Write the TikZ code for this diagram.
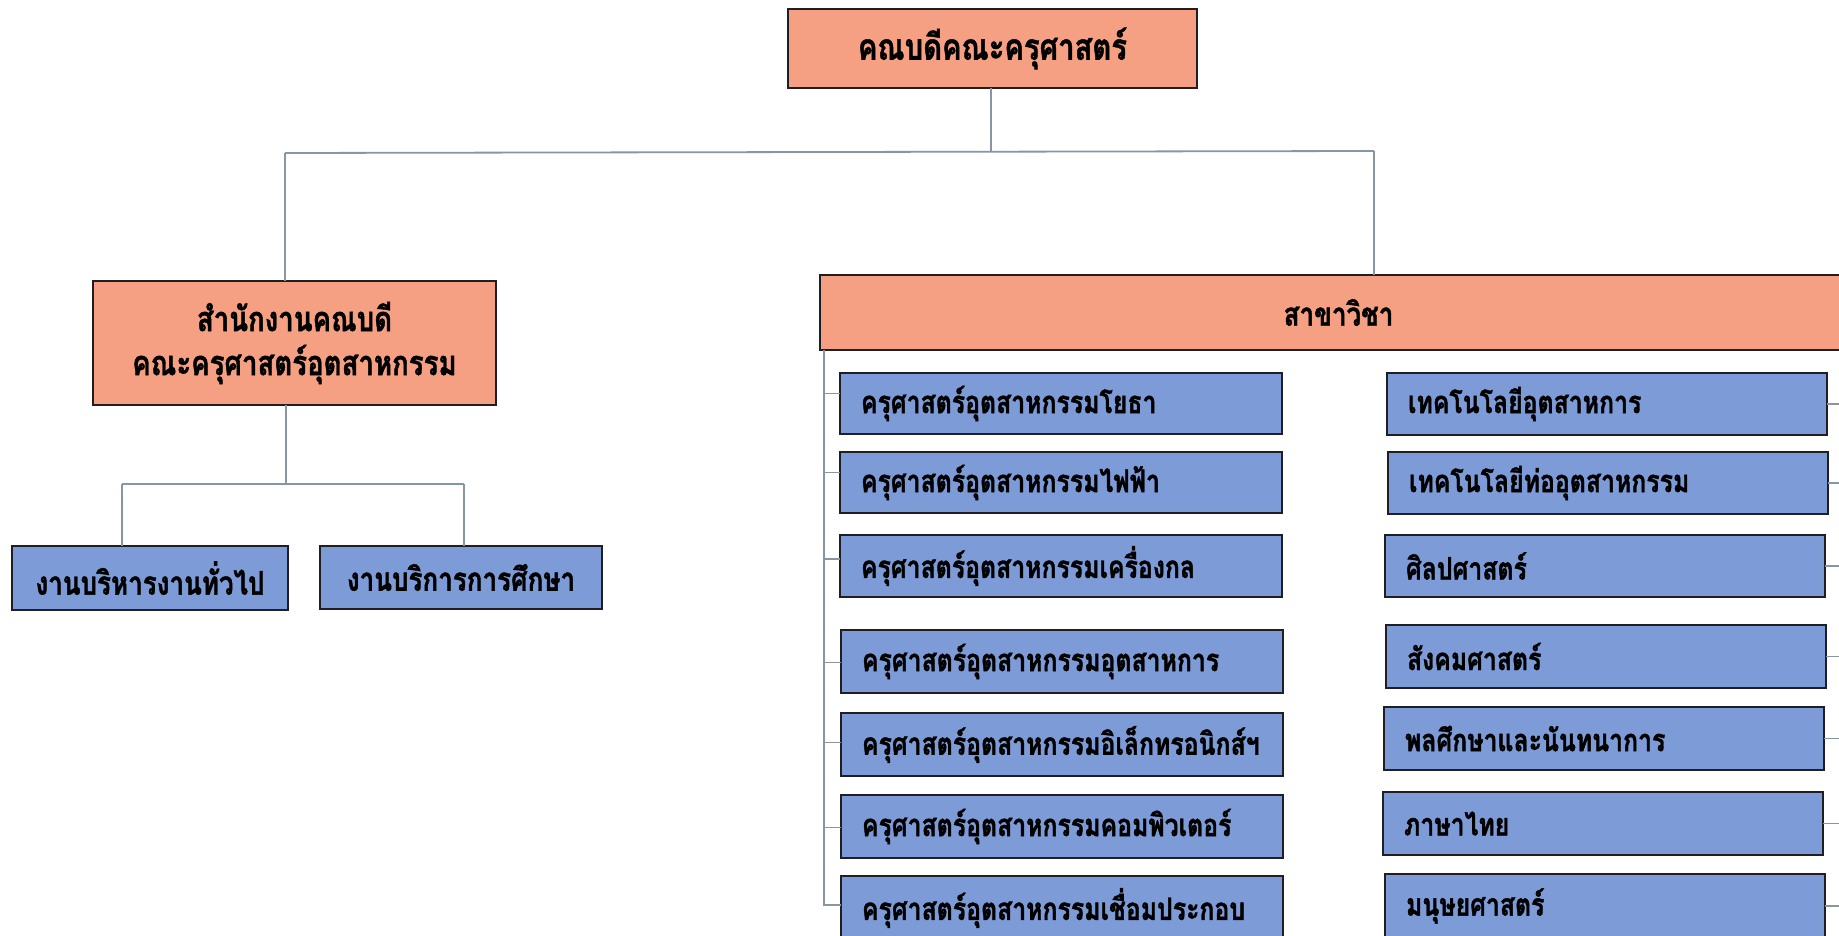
\documentclass[tikz,border=0pt]{standalone}
\usepackage{fontspec}
\newfontfamily\thai[Script=Thai, FakeStretch=0.8, FakeBold=1.2]{Loma}
\definecolor{salmon}{RGB}{245,160,130}
\definecolor{boxblue}{RGB}{125,155,215}
\definecolor{edge}{RGB}{30,30,35}
\definecolor{wire}{RGB}{135,150,165}
\tikzset{
  base/.style={draw=edge, line width=2pt, inner ysep=0pt, outer sep=0pt},
  redbox/.style={base, fill=salmon, align=center, font=\thai\bfseries\fontsize{34.5}{42}\selectfont},
  bluebox/.style={base, fill=boxblue, inner xsep=21pt, align=left, font=\thai\bfseries\fontsize{31}{36}\selectfont},
  smallbox/.style={base, fill=boxblue, align=center, font=\thai\bfseries\fontsize{32.5}{36}\selectfont},
  wireline/.style={draw=wire, line width=1.8pt},
  lcol/.style={bluebox, text width=400pt},
  rcol/.style={bluebox, text width=398pt}
}
\begin{document}
\begin{tikzpicture}[x=1pt,y=-1pt]
\useasboundingbox (0,0) rectangle (1839,936);
\fill[white] (0,0) rectangle (1839,936);
\begin{scope}
\clip (0,0) rectangle (1839,936);
% top
\node[redbox, font=\thai\bfseries\fontsize{36.5}{42}\selectfont, minimum width=409pt, minimum height=79pt] (top) at (992.5,48.5) {คณบดีคณะครุศาสตร์};
\node[redbox, minimum width=403pt, minimum height=124pt] (office) at (294.5,343) {สำนักงานคณบดี\\[2pt]คณะครุศาสตร์อุตสาหกรรม};
\node[smallbox, minimum width=276pt, minimum height=64pt] (gen) at (150,578) {งานบริหารงานทั่วไป};
\node[smallbox, minimum width=282pt, minimum height=63pt] (edu) at (461,577.5) {งานบริการการศึกษา};
\node[redbox, font=\thai\bfseries\fontsize{32.5}{36}\selectfont, minimum width=1037pt, minimum height=75pt] (sakha) at (1338.5,312.5) {สาขาวิชา};
% left column
\node[lcol, minimum height=61pt] (L1) at (1061,403.5) {ครุศาสตร์อุตสาหกรรมโยธา};
\node[lcol, minimum height=61pt] (L2) at (1061,482.5) {ครุศาสตร์อุตสาหกรรมไฟฟ้า};
\node[lcol, minimum height=62pt] (L3) at (1061,566) {ครุศาสตร์อุตสาหกรรมเครื่องกล};
\node[lcol, minimum height=63pt] (L4) at (1062,661.5) {ครุศาสตร์อุตสาหกรรมอุตสาหการ};
\node[lcol, minimum height=63pt] (L5) at (1062,744.5) {ครุศาสตร์อุตสาหกรรมอิเล็กทรอนิกส์ฯ};
\node[lcol, minimum height=63pt] (L6) at (1062,826.5) {ครุศาสตร์อุตสาหกรรมคอมพิวเตอร์};
\node[lcol, minimum height=64pt] (L7) at (1062,908) {ครุศาสตร์อุตสาหกรรมเชื่อมประกอบ};
% right column
\node[rcol, minimum height=62pt] (R1) at (1607,404) {เทคโนโลยีอุตสาหการ};
\node[rcol, minimum height=62pt] (R2) at (1608,483) {เทคโนโลยีท่ออุตสาหกรรม};
\node[rcol, minimum height=62pt] (R3) at (1605,566) {ศิลปศาสตร์};
\node[rcol, minimum height=63pt] (R4) at (1606,656.5) {สังคมศาสตร์};
\node[rcol, minimum height=63pt] (R5) at (1604,738.5) {พลศึกษาและนันทนาการ};
\node[rcol, minimum height=63pt] (R6) at (1603,823.5) {ภาษาไทย};
\node[rcol, minimum height=64pt] (R7) at (1605,906) {มนุษยศาสตร์};
% connectors
\coordinate (hub) at (991,152);
\coordinate (hL) at (285,153);
\coordinate (hR) at (1374,151);
\draw[wireline] (top.south -| hub) -- (hub);
\draw[wireline] (hL) -- (hR);
\draw[wireline] (hL) -- (hL |- office.north);
\draw[wireline] (hR) -- (hR |- sakha.north);
\coordinate (hub2) at (286,484);
\coordinate (h2L) at (122,484);
\coordinate (h2R) at (464,484);
\draw[wireline] (office.south -| hub2) -- (hub2);
\draw[wireline] (h2L) -- (h2R);
\draw[wireline] (h2L) -- (h2L |- gen.north);
\draw[wireline] (h2R) -- (h2R |- edu.north);
\coordinate (spine) at (824,905);
\draw[wireline] (sakha.south -| spine) -- (spine) -- (L7.west |- spine);
\foreach \n/\dy in {L1/10,L2/10,L3/7,L4/-1,L5/2,L6/-1} {
  \draw[wireline] ([yshift=\dy pt]\n.west -| spine) -- ([yshift=\dy pt]\n.west);
}
\foreach \n in {R1,R2,R3,R4,R5,R6,R7} {
  \coordinate (e\n) at ([xshift=30pt]\n.east);
  \draw[wireline] (\n.east) -- (e\n);
}
\end{scope}
\end{tikzpicture}
\end{document}
